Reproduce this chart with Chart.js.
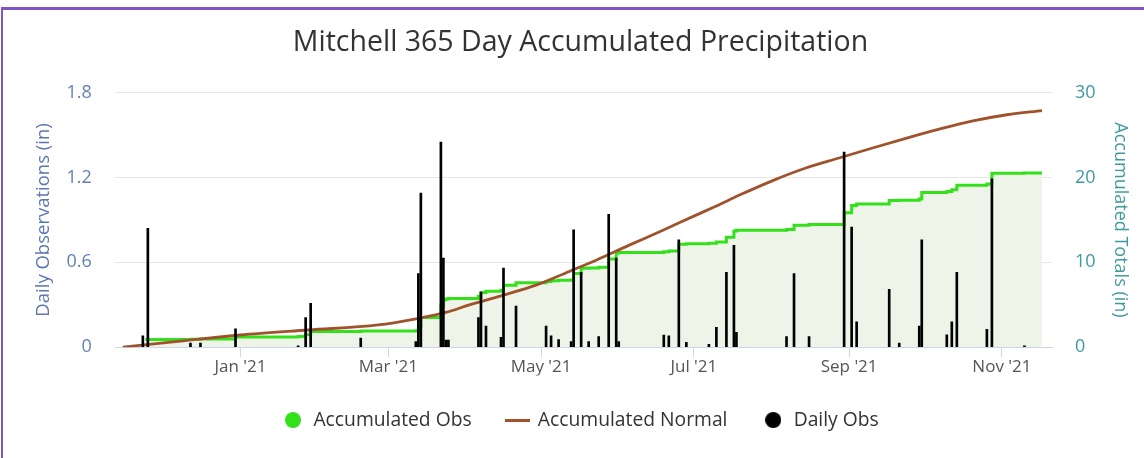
<!DOCTYPE html>
<html>
<head>
<meta charset="utf-8">
<script src="https://cdn.jsdelivr.net/npm/chart.js@4.4.0/dist/chart.umd.min.js"></script>
<style>
  html, body { margin: 0; padding: 0; background: #ffffff; }
  #wrap { position: relative; width: 1144px; height: 458px; overflow: hidden; background: #ffffff; }
  #frameTop { position: absolute; left: 1px; top: 7px; width: 1143px; height: 3px; background: #7d55c7; }
  #frameLeft { position: absolute; left: 1px; top: 7px; width: 2px; height: 451px; background: #7d55c7; }
  canvas { position: absolute; left: 0; top: 0; }
</style>
</head>
<body>
<div id="wrap">
  <canvas id="c" width="1144" height="458"></canvas>
  <div id="frameTop"></div>
  <div id="frameLeft"></div>
</div>
<script>
// Day numbers are counted from 1 Jan 2021 (0 = Jan 1 2021, negative = late 2020)
const titleText = "Mitchell 365 Day Accumulated Precipitation";
const seriesNames = ["Accumulated Obs", "Accumulated Normal", "Daily Obs"];

// Daily observations (in)
const obsDays = [-39,-37,-20,-16,-2,23,26,28,48,70,71,72,80,81,82,83,95,96,98,104,105,110,122,124,127,132,133,136,139,143,147,150,151,169,171,175,178,187,190,194,197,198,218,221,227,241,244,246,259,263,271,272,282,284,286,298,300,313];
const obsValues = [0.08,0.84,0.03,0.03,0.13,0.01,0.21,0.31,0.065,0.04,0.52,1.09,1.45,0.63,0.05,0.05,0.21,0.39,0.15,0.07,0.56,0.29,0.15,0.08,0.054,0.04,0.83,0.53,0.04,0.075,0.94,0.63,0.04,0.085,0.08,0.76,0.035,0.02,0.14,0.53,0.72,0.105,0.075,0.52,0.075,1.38,0.85,0.18,0.41,0.03,0.15,0.76,0.087,0.18,0.53,0.127,1.19,0.01];

// Accumulated observations (in), value reached on each change day
const accDays = [-38,-20,-16,-2,23,26,28,48,70,71,72,80,81,82,83,95,96,98,104,105,110,122,124,127,132,133,136,139,143,147,150,151,169,171,175,178,187,190,194,197,198,218,221,227,241,244,246,259,263,271,272,282,284,286,298,300,313,320];
const accValues = [0.92,0.95,0.98,1.2,1.25,1.5,1.85,1.92,1.95,2.47,3.5,4.95,5.6,5.68,5.75,6.0,6.45,6.6,6.7,7.3,7.6,7.75,7.82,7.88,7.92,8.7,9.3,9.35,9.42,10.4,11.1,11.15,11.25,11.35,12.15,12.2,12.25,12.4,12.95,13.7,13.8,13.88,14.38,14.45,15.85,16.7,16.88,17.3,17.33,17.48,18.25,18.35,18.55,19.1,19.25,20.5,20.52,20.52];

// Accumulated normal (in)
const normDays = [-47,-24,0,27,55,70,82,91,104,118,131,142,155,168,181,190,199,213,226,239,252,266,279,292,306,320];
const normValues = [0.0,0.72,1.44,2.03,2.62,3.35,4.1,4.95,6.06,7.31,8.9,10.25,12.0,13.7,15.45,16.65,17.9,19.7,21.15,22.3,23.45,24.65,25.7,26.65,27.4,27.9];

// Axis ticks
const xTickDays = [0, 59, 120, 181, 243, 304];
const xTickLabels = ["Jan '21", "Mar '21", "May '21", "Jul '21", "Sep '21", "Nov '21"];
const leftTicks = [0, 0.6, 1.2, 1.8];
const leftTickLabels = ["0", "0.6", "1.2", "1.8"];
const rightTicks = [0, 10, 20, 30];
const rightTickLabels = ["0", "10", "20", "30"];

const FONT = "'Open Sans', 'DejaVu Sans', sans-serif";
const GREEN = '#33e11b';
const BROWN = '#a0522d';

function makeCircle(color, d) {
  const c = document.createElement('canvas');
  c.width = d; c.height = d;
  const g = c.getContext('2d');
  g.fillStyle = color;
  g.beginPath(); g.arc(d / 2, d / 2, d / 2, 0, Math.PI * 2); g.fill();
  return c;
}
function makeLine(color, w, h) {
  const c = document.createElement('canvas');
  c.width = w; c.height = h;
  const g = c.getContext('2d');
  g.fillStyle = color; g.fillRect(0, 0, w, h);
  return c;
}
const legendIcons = [makeCircle(GREEN, 16), makeLine(BROWN, 25, 3), makeCircle('#000000', 16)];

const obsData = obsDays.map((d, i) => ({ x: d, y: obsValues[i] }));
const accData = accDays.map((d, i) => ({ x: d, y: accValues[i] }));
const normData = normDays.map((d, i) => ({ x: d, y: normValues[i] }));

function setTicks(values) {
  return function (scale) { scale.ticks = values.map(v => ({ value: v })); };
}

new Chart(document.getElementById('c'), {
  data: {
    datasets: [
      {
        type: 'line', label: seriesNames[0], data: accData, yAxisID: 'yR',
        borderColor: GREEN, borderWidth: 3, backgroundColor: '#eef5e8',
        fill: 'origin', stepped: true, pointRadius: 0, order: 2
      },
      {
        type: 'line', label: seriesNames[1], data: normData, yAxisID: 'yR',
        borderColor: BROWN, borderWidth: 2.8, backgroundColor: BROWN,
        fill: false, cubicInterpolationMode: 'monotone', pointRadius: 0, order: 1
      },
      {
        type: 'bar', label: seriesNames[2], data: obsData, yAxisID: 'yL',
        backgroundColor: '#000000', borderWidth: 0, barThickness: 2, order: 0
      }
    ]
  },
  options: {
    responsive: false,
    animation: false,
    devicePixelRatio: 1,
    layout: { padding: { left: 17, right: 0, top: 25.6, bottom: 18.3 } },
    plugins: {
      tooltip: { enabled: false },
      title: {
        display: true, text: titleText, color: '#333333',
        font: { family: FONT, size: 28.5, weight: 'normal', lineHeight: 1.2 },
        padding: { top: 0, bottom: 32.9 }
      },
      legend: {
        position: 'bottom',
        labels: {
          color: '#333333',
          font: { family: FONT, size: 19.3, lineHeight: 1.2 },
          usePointStyle: true,
          pointStyleWidth: 21.5,
          boxHeight: 16,
          padding: 35,
          sort: (a, b) => a.datasetIndex - b.datasetIndex,
          generateLabels: function (chart) {
            const items = Chart.defaults.plugins.legend.labels.generateLabels(chart);
            items.forEach(it => { it.pointStyle = legendIcons[it.datasetIndex]; });
            return items;
          }
        }
      }
    },
    scales: {
      x: {
        type: 'linear', position: 'bottom', min: -50, max: 324, offset: false,
        afterBuildTicks: setTicks(xTickDays),
        afterFit: function (scale) { scale.height = 28.2; },
        ticks: {
          autoSkip: false, maxRotation: 0, minRotation: 0, padding: 0,
          color: '#555555', font: { family: FONT, size: 17 },
          callback: function (v) { return xTickLabels[xTickDays.indexOf(v)]; }
        },
        grid: { display: true, offset: false, drawOnChartArea: false, drawTicks: true, tickLength: 10, color: '#ccd6eb' },
        border: { display: true, color: '#ccd6eb', width: 1 }
      },
      yL: {
        type: 'linear', position: 'left', min: 0, max: 1.8,
        afterBuildTicks: setTicks(leftTicks),
        afterFit: function (scale) { scale.width = 115.3 - 17; },
        ticks: {
          padding: 23.6, color: '#6680b3', font: { family: FONT, size: 18 },
          callback: function (v) { return leftTickLabels[leftTicks.indexOf(v)]; }
        },
        grid: { color: '#e6e6e6', drawTicks: false, lineWidth: 1 },
        border: { display: false },
        title: {
          display: true, text: 'Daily Observations (in)', color: '#5b78b0',
          font: { family: FONT, size: 18.5, lineHeight: 1.2 }, padding: { top: 15.3, bottom: 0 }
        }
      },
      yR: {
        type: 'linear', position: 'right', min: 0, max: 30,
        afterBuildTicks: setTicks(rightTicks),
        afterFit: function (scale) { scale.width = 1144 - 1052; },
        ticks: {
          padding: 23, color: '#3f9a9f', font: { family: FONT, size: 18 },
          callback: function (v) { return rightTickLabels[rightTicks.indexOf(v)]; }
        },
        grid: { drawOnChartArea: false, drawTicks: false },
        border: { display: false },
        title: {
          display: true, text: 'Accumulated Totals (in)', color: '#3f9a9f',
          font: { family: FONT, size: 18, lineHeight: 1.2 }, padding: { top: 13.2, bottom: 0 }
        }
      }
    }
  }
});
</script>
</body>
</html>
